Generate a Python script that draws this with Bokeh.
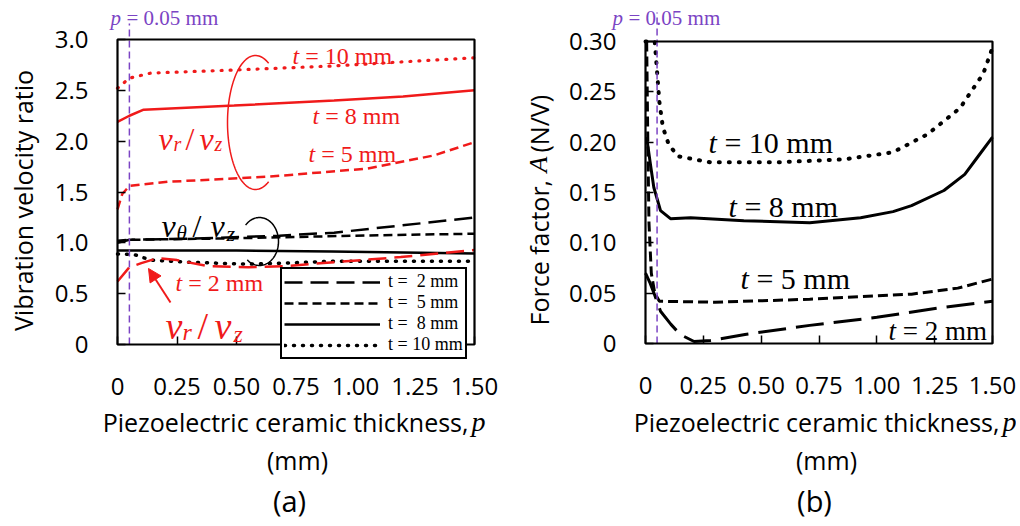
import numpy as np
from bokeh.plotting import figure
from bokeh.layouts import row
from bokeh.models import (Label, Legend, LegendItem, FixedTicker, CustomJSTickFormatter,
                          Range1d, Arrow, NormalHead, BoxAnnotation)
from bokeh.embed import file_html
from bokeh.resources import INLINE

# ---------------- data: (a) vibration velocity ratio ----------------
x_ticks = [0, 0.25, 0.5, 0.75, 1.0, 1.25, 1.5]
ya_ticks = [0, 0.5, 1.0, 1.5, 2.0, 2.5, 3.0]
yb_ticks = [0, 0.05, 0.10, 0.15, 0.20, 0.25, 0.30]
p_marker = 0.05

# v_r / v_z (red)
vr_t10_p = [0, 0.05, 0.14, 0.49, 0.91, 1.2, 1.5]
vr_t10 = [2.52, 2.62, 2.67, 2.70, 2.74, 2.78, 2.82]
vr_t8_p = [0, 0.05, 0.11, 0.49, 0.91, 1.2, 1.5]
vr_t8 = [2.19, 2.25, 2.31, 2.35, 2.40, 2.44, 2.50]
vr_t5_p = [0, 0.02, 0.05, 0.21, 0.63, 1.05, 1.33, 1.5]
vr_t5 = [1.33, 1.48, 1.56, 1.60, 1.65, 1.73, 1.86, 1.99]
vr_t2_p = [0, 0.05, 0.10, 0.17, 0.25, 0.38, 0.55, 0.70, 0.91, 1.19, 1.5]
vr_t2 = [0.62, 0.76, 0.80, 0.85, 0.83, 0.77, 0.76, 0.77, 0.81, 0.86, 0.93]

# v_theta / v_z (black)
vt_t2_p = [0, 0.05, 0.3, 0.68, 0.91, 1.19, 1.5]
vt_t2 = [1.00, 1.03, 1.04, 1.07, 1.10, 1.17, 1.25]
vt_t5_p = [0, 0.05, 0.5, 1.0, 1.5]
vt_t5 = [1.02, 1.03, 1.045, 1.07, 1.09]
vt_t8_p = [0, 0.5, 0.9, 1.2, 1.5]
vt_t8 = [0.925, 0.925, 0.915, 0.905, 0.895]
vt_t10_p = [0, 0.07, 0.14, 0.3, 0.42, 0.55, 0.7, 0.91, 1.2, 1.5]
vt_t10 = [0.89, 0.885, 0.83, 0.81, 0.80, 0.79, 0.80, 0.82, 0.82, 0.82]

# ---------------- data: (b) force factor A ----------------
A_t10_p = [0, 0.04, 0.05, 0.06, 0.075, 0.10, 0.14, 0.28, 0.57, 0.86, 1.07, 1.22, 1.36, 1.46, 1.5]
A_t10 = [0.30, 0.30, 0.27, 0.24, 0.215, 0.198, 0.186, 0.18, 0.18, 0.183, 0.19, 0.208, 0.234, 0.268, 0.294]
A_t8_p = [0.005, 0.02, 0.036, 0.065, 0.108, 0.195, 0.425, 0.71, 0.93, 1.07, 1.15, 1.29, 1.38, 1.435, 1.5]
A_t8 = [0.205, 0.18, 0.155, 0.132, 0.124, 0.125, 0.122, 0.120, 0.125, 0.131, 0.137, 0.152, 0.168, 0.185, 0.205]
A_t5_p = [0.005, 0.01, 0.015, 0.025, 0.04, 0.06, 0.3, 0.71, 1.15, 1.35, 1.5]
A_t5 = [0.30, 0.20, 0.12, 0.07, 0.05, 0.042, 0.041, 0.044, 0.049, 0.055, 0.064]
A_t2_p = [0.0, 0.02, 0.04, 0.065, 0.11, 0.15, 0.21, 0.28, 0.43, 0.71, 1.0, 1.29, 1.5]
A_t2 = [0.07, 0.06, 0.048, 0.032, 0.019, 0.009, 0.002, 0.003, 0.009, 0.018, 0.026, 0.036, 0.042]

legend_labels = ["t =  2 mm", "t =  5 mm", "t =  8 mm", "t = 10 mm"]

SANS = "Open Sans"
SERIF = "Liberation Serif"
RED = "#f01a1a"
PURPLE = "#7b44c4"

LONG = "18 8"
SHORT = "9 5"
DOT = "1 8"

H = 522


class Panel:
    def __init__(self, X0, W, L, R, T, B, ymax, yticks, yfmt):
        self.X0, self.W, self.L, self.R, self.T, self.B, self.ymax = X0, W, L, R, T, B, ymax
        l, r = L - X0, R - X0
        xr = Range1d(-l / (r - l) * 1.5, (W - l) / (r - l) * 1.5)
        yr = Range1d((B - H) / (B - T) * ymax, B / (B - T) * ymax)
        p = figure(width=W, height=H, x_range=xr, y_range=yr, min_border=0,
                   output_backend="svg", toolbar_location=None, title=None)
        p.grid.visible = False
        p.outline_line_color = None
        p.background_fill_color = "white"
        p.border_fill_color = "white"
        for ax in (p.xaxis[0], p.yaxis[0]):
            ax.fixed_location = 0
            ax.axis_line_color = None
            ax.major_tick_in = 8
            ax.major_tick_out = 0
            ax.major_tick_line_width = 1.5
            ax.major_tick_line_color = "black"
            ax.minor_tick_line_color = None
            ax.major_label_text_font = SANS
            ax.major_label_text_font_size = "24px"
            ax.major_label_text_color = "black"
        p.xaxis.ticker = FixedTicker(ticks=x_ticks)
        p.xaxis.formatter = CustomJSTickFormatter(code="return tick == 0 ? '0' : tick.toFixed(2);")
        p.xaxis.major_label_standoff = 33
        p.yaxis.ticker = FixedTicker(ticks=yticks)
        p.yaxis.formatter = CustomJSTickFormatter(code=yfmt)
        p.yaxis.major_label_standoff = 29
        p.add_layout(BoxAnnotation(left=0, right=1.5, bottom=0, top=ymax, fill_alpha=0,
                                   line_color="black", line_alpha=1, line_width=2.2,
                                   level="overlay"))
        self.p = p

    def dx(self, px):
        return (px - self.L) / (self.R - self.L) * 1.5

    def dy(self, py):
        return (self.B - py) / (self.B - self.T) * self.ymax

    def lab(self, x, y, text, size, color="black", font=SERIF, style="normal",
            align="left", baseline="middle", angle=0):
        self.p.add_layout(Label(x=x - self.X0, y=H - y, x_units="screen", y_units="screen",
                                text=text, text_font=font, text_font_size=f"{size}px",
                                text_color=color, text_font_style=style, text_align=align,
                                text_baseline=baseline, angle=angle))

    def tlabel(self, x, y, rest, size, color="black"):
        self.lab(x, y, "t", size, color, style="italic")
        self.lab(x + 0.53 * size, y, rest, size, color)

    def arc(self, cx, cy, rx, ry, a0, a1, color):
        th = np.radians(np.linspace(a0, a1, 80))
        px = cx + rx * np.cos(th)
        py = cy - ry * np.sin(th)
        self.p.line(self.dx(px), self.dy(py), line_color=color, line_width=1.5)


# ================= panel (a) =================
A = Panel(0, 510, 117, 474, 39, 344, 3.0, ya_ticks, "return tick == 0 ? '0' : tick.toFixed(1);")
pa = A.p

rb2 = pa.line(vt_t2_p, vt_t2, line_color="black", line_width=2.5, line_dash=LONG)
rb5 = pa.line(vt_t5_p, vt_t5, line_color="black", line_width=2.5, line_dash=SHORT)
rb8 = pa.line(vt_t8_p, vt_t8, line_color="black", line_width=2.5)
rb10 = pa.line(vt_t10_p, vt_t10, line_color="black", line_width=3.5, line_dash=DOT, line_cap="round")

pa.line(vr_t2_p, vr_t2, line_color=RED, line_width=2.5, line_dash=LONG)
pa.line(vr_t5_p, vr_t5, line_color=RED, line_width=2.5, line_dash=SHORT)
pa.line(vr_t8_p, vr_t8, line_color=RED, line_width=2.5)
pa.line(vr_t10_p, vr_t10, line_color=RED, line_width=3.2, line_dash=DOT, line_cap="round")

# p = 0.05 mm marker
pa.segment(x0=[p_marker], y0=[0], x1=[p_marker], y1=[A.dy(23)], line_color=PURPLE,
           line_width=1.5, line_dash="7 4")
A.lab(110, 17, "p", 21, PURPLE, style="italic")
A.lab(126, 17, "= 0.05 mm", 21, PURPLE)

A.arc(255, 122, 28, 67, 62, 298, RED)
A.arc(259, 241, 19, 24, -130, 137, "black")

# red texts
A.tlabel(292, 55, "= 10 mm", 24, RED)
A.tlabel(312, 115, "= 8 mm", 24, RED)
A.tlabel(308, 153, "= 5 mm", 24, RED)
A.tlabel(175, 282, "= 2 mm", 24, RED)

# v_r / v_z (upper)
A.lab(158, 138, "v", 32, RED, style="italic", baseline="alphabetic")
A.lab(173, 143, "r", 20, RED, style="italic", baseline="alphabetic")
A.lab(185, 138, "/", 32, RED, baseline="alphabetic")
A.lab(199, 138, "v", 32, RED, style="italic", baseline="alphabetic")
A.lab(214, 143, "z", 20, RED, style="italic", baseline="alphabetic")

# v_theta / v_z
A.lab(161, 225, "v", 32, "black", style="italic", baseline="alphabetic")
A.lab(176, 232, "θ", 21, "black", style="italic", baseline="alphabetic")
A.lab(192, 225, "/", 32, "black", baseline="alphabetic")
A.lab(210, 225, "v", 32, "black", style="italic", baseline="alphabetic")
A.lab(226, 233, "z", 22, "black", style="italic", baseline="alphabetic")

# v_r / v_z (lower)
A.lab(165, 325, "v", 38, RED, style="italic", baseline="alphabetic")
A.lab(182, 331, "r", 24, RED, style="italic", baseline="alphabetic")
A.lab(197, 325, "/", 38, RED, baseline="alphabetic")
A.lab(214, 325, "v", 38, RED, style="italic", baseline="alphabetic")
A.lab(233, 333, "z", 24, RED, style="italic", baseline="alphabetic")

# arrow
pa.add_layout(Arrow(end=NormalHead(size=13, fill_color=RED, line_color=RED),
                    x_start=A.dx(170), y_start=A.dy(302), x_end=A.dx(148), y_end=A.dy(268),
                    line_color=RED, line_width=2))

# legend
leg = Legend(items=[LegendItem(label=legend_labels[0], renderers=[rb2]),
                    LegendItem(label=legend_labels[1], renderers=[rb5]),
                    LegendItem(label=legend_labels[2], renderers=[rb8]),
                    LegendItem(label=legend_labels[3], renderers=[rb10])],
             location=(280, H - 359))
leg.label_text_font = SERIF
leg.label_text_font_size = "18px"
leg.label_text_color = "black"
leg.glyph_width = 96
leg.glyph_height = 16
leg.label_height = 16
leg.spacing = 0
leg.padding = 2
leg.margin = 0
leg.label_standoff = 8
leg.border_line_color = "black"
leg.border_line_alpha = 1
leg.border_line_width = 2
leg.background_fill_alpha = 1
pa.add_layout(leg)

# axis titles (a)
A.lab(22, 200, "Vibration velocity ratio", 25, font=SANS, align="center", angle=np.pi / 2)
A.lab(468, 421, "Piezoelectric ceramic thickness,", 25, font=SANS, align="right",
      baseline="alphabetic")
A.lab(471, 421, "p", 28, style="italic", baseline="alphabetic")
A.lab(297, 459, "(mm)", 25, font=SANS, align="center", baseline="alphabetic")
A.lab(289, 500, "(a)", 29, font=SANS, align="center", baseline="alphabetic")

# ================= panel (b) =================
B = Panel(510, 506, 645, 992, 41, 343, 0.30, yb_ticks, "return tick == 0 ? '0' : tick.toFixed(2);")
pb = B.p

pb.line(A_t2_p, A_t2, line_color="black", line_width=3, line_dash="28 10")
pb.line(A_t5_p, A_t5, line_color="black", line_width=3, line_dash="10 5")
pb.line(A_t8_p, A_t8, line_color="black", line_width=3)
pb.line(A_t10_p, A_t10, line_color="black", line_width=4, line_dash="1 9", line_cap="round")

pb.segment(x0=[p_marker], y0=[0], x1=[p_marker], y1=[B.dy(12)], line_color=PURPLE,
           line_width=1.5, line_dash="7 4")
B.lab(612, 17, "p", 21, PURPLE, style="italic")
B.lab(628, 17, "= 0.05 mm", 21, PURPLE)

B.tlabel(708, 142, "= 10 mm", 30)
B.tlabel(728, 206, "= 8 mm", 30)
B.tlabel(740, 278, "= 5 mm", 30)
B.tlabel(888, 330, "= 2 mm", 27)

# axis titles (b)
B.lab(538, 325, "Force factor,", 25, font=SANS, align="left", angle=np.pi / 2)
B.lab(538, 172, "A", 26, font=SERIF, style="italic", align="left", angle=np.pi / 2)
B.lab(538, 152, "(N/V)", 25, font=SANS, align="left", angle=np.pi / 2)
B.lab(999, 421, "Piezoelectric ceramic thickness,", 25, font=SANS, align="right",
      baseline="alphabetic")
B.lab(1002, 421, "p", 28, style="italic", baseline="alphabetic")
B.lab(826, 459, "(mm)", 25, font=SANS, align="center", baseline="alphabetic")
B.lab(814, 500, "(b)", 29, font=SANS, align="center", baseline="alphabetic")

layout = row(pa, pb)
open("out.html", "w").write(file_html(layout, INLINE))
